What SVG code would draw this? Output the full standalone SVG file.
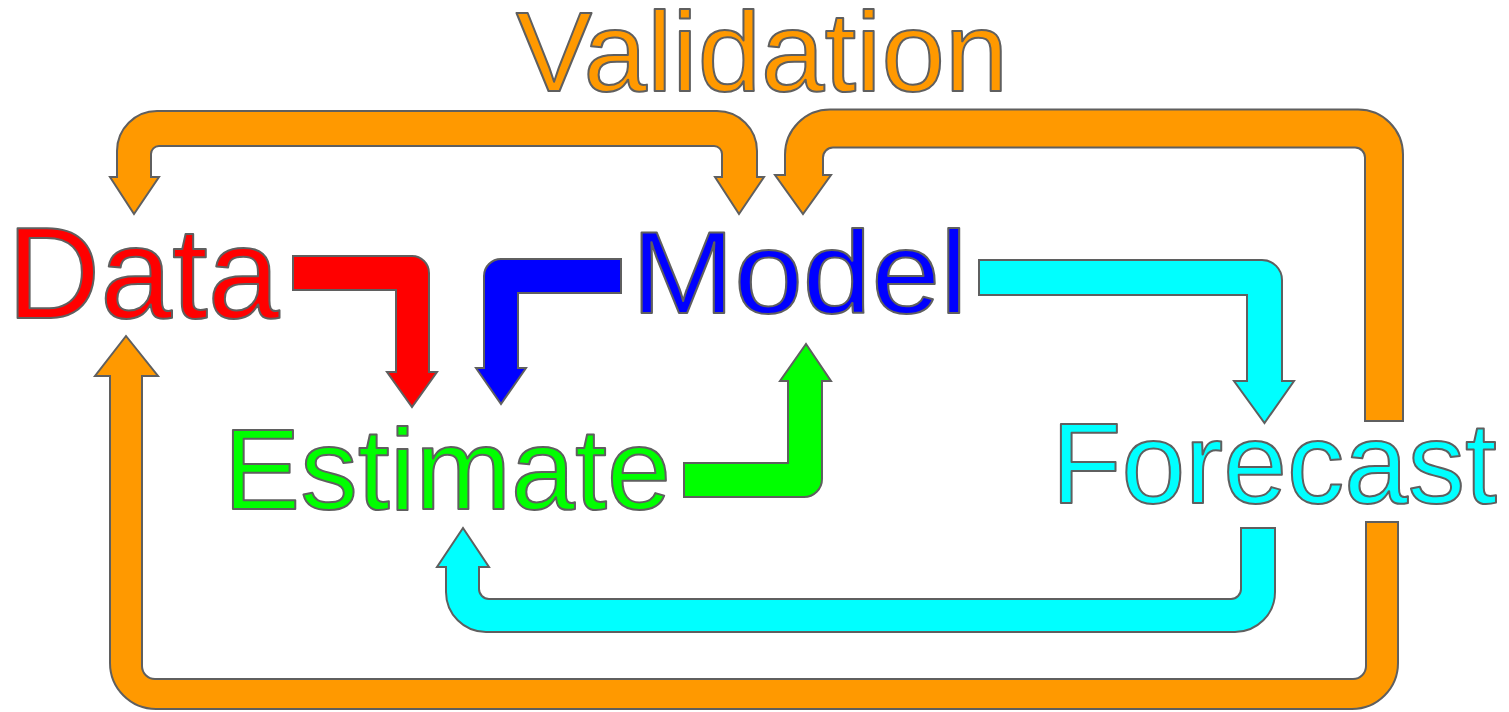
<svg xmlns="http://www.w3.org/2000/svg" width="1509" height="712" viewBox="0 0 1509 712">
<style>
.lbl{font-family:"Liberation Sans",Arial,sans-serif;stroke:#5f5f5f;stroke-width:2;stroke-linejoin:round}
.arr{stroke:#5f5f5f;stroke-width:2;stroke-linejoin:miter}
.or{fill:#ff9900}.rd{fill:#ff0000}.bl{fill:#0000ff}.gr{fill:#00ff00}.cy{fill:#00ffff}
</style>
<rect width="1509" height="712" fill="#ffffff"/>
<g id="connectors">
<path id="validation-model-data" class="arr or" d="M117,177 L110,177 L134,214 L159,177 L151,177 L151,154 A8,8 0 0 1 159,146 L714,146 A8,8 0 0 1 722,154 L722,177 L715,177 L739,214 L764,177 L757,177 L757,151 A40,40 0 0 0 717,111 L157,111 A40,40 0 0 0 117,151 Z"/>
<path id="forecast-model" class="arr or" d="M1403,421 L1365,421 L1365,157.5 A10,10 0 0 0 1355,147.5 L833,147.5 A10,10 0 0 0 823,157.5 L823,175 L831,175 L803,214 L775,175 L785,175 L785,154.5 A45,45 0 0 1 830,109.5 L1358,109.5 A45,45 0 0 1 1403,154.5 Z"/>
<path id="model-forecast" class="arr cy" d="M979,260 L1262,260 A20,20 0 0 1 1282,280 L1282,381 L1294,381 L1264.5,423 L1234,381 L1247,381 L1247,295 L979,295 Z"/>
<path id="data-estimate" class="arr rd" d="M293,256 L412,256 A17,17 0 0 1 429,273 L429,372 L437,372 L412,407 L387,372 L396,372 L396,290 L293,290 Z"/>
<path id="model-estimate" class="arr bl" d="M621,259 L501,259 A17,17 0 0 0 484,276 L484,368 L476,368 L501,404 L526,368 L518,368 L518,293 L621,293 Z"/>
<path id="estimate-model" class="arr gr" d="M684,463 L788,463 L788,381 L780,381 L806,344 L831,381 L822,381 L822,479 A18,18 0 0 1 804,497 L684,497 Z"/>
<path id="forecast-estimate" class="arr cy" d="M1241,528 L1275,528 L1275,592 A40,40 0 0 1 1235,632 L486,632 A40,40 0 0 1 446,592 L446,567 L437,567 L463,528 L489,567 L479,567 L479,589 A10,10 0 0 0 489,599 L1231,599 A10,10 0 0 0 1241,589 Z"/>
<path id="forecast-data" class="arr or" d="M1366,522 L1398,522 L1398,663 A46,46 0 0 1 1352,709 L156,709 A46,46 0 0 1 110,663 L110,376 L95,376 L126,336 L158,376 L142,376 L142,666 A13,13 0 0 0 155,679 L1353,679 A13,13 0 0 0 1366,666 Z"/>
</g>
<g id="validation"><text class="lbl or" x="516" y="91" font-size="114">Validation</text></g>
<g id="data"><text class="lbl rd" x="7" y="317.5" font-size="129">Data</text></g>
<g id="model"><text class="lbl bl" x="631.5" y="313.3" font-size="116" textLength="336" lengthAdjust="spacingAndGlyphs">Model</text></g>
<g id="estimate"><text class="lbl gr" x="223.6" y="509" font-size="115">Estimate</text></g>
<g id="forecast"><text class="lbl cy" x="1051.5" y="503.3" font-size="114.5">Forecast</text></g>
</svg>
